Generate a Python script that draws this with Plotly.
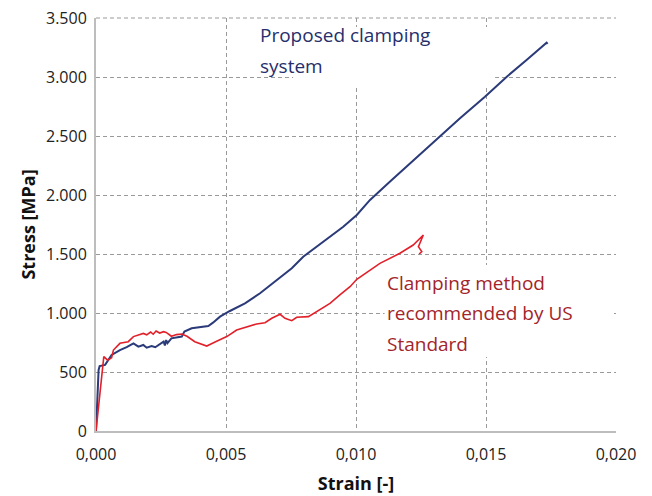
import plotly.graph_objects as go

# Proposed clamping system (blue)
strain_proposed = [0.0, 0.0001, 0.00014, 0.00035, 0.0006, 0.00092, 0.00118, 0.00144, 0.00163,
                   0.00182, 0.00195, 0.00214, 0.00228, 0.0024, 0.0026, 0.00265, 0.0027, 0.00275,
                   0.0029, 0.0033, 0.0034, 0.00368, 0.0040, 0.00432, 0.0045, 0.00477, 0.00515,
                   0.00573, 0.00631, 0.00695, 0.00753, 0.00797, 0.00823, 0.00887, 0.00951, 0.01003,
                   0.01054, 0.0113, 0.01208, 0.01272, 0.0133, 0.0140, 0.01496, 0.0158, 0.01656,
                   0.01733, 0.01737]
stress_proposed = [0, 517, 550, 560, 644, 686, 710, 743, 715,
                   729, 706, 720, 710, 729, 757, 725, 771, 745,
                   785, 800, 842, 870, 878, 890, 918, 969, 1017,
                   1082, 1167, 1280, 1379, 1477, 1520, 1619, 1731, 1831,
                   1958, 2113, 2269, 2396, 2509, 2650, 2833, 3003, 3144,
                   3291, 3280]

# Clamping method recommended by US Standard (red)
strain_us = [0.0, 0.00028, 0.0003, 0.00045, 0.0006, 0.00067, 0.00092, 0.00124, 0.00144,
             0.00182, 0.00195, 0.0021, 0.0022, 0.00231, 0.00245, 0.0026, 0.0027, 0.0029,
             0.0031, 0.0033, 0.0035, 0.0038, 0.00426, 0.0046, 0.00503, 0.00541, 0.00618,
             0.0065, 0.00676, 0.00708, 0.00727, 0.00753, 0.00772, 0.00817, 0.00849, 0.0090,
             0.00938, 0.00977, 0.01003, 0.01054, 0.01092, 0.01169, 0.0122, 0.01259, 0.0124,
             0.01253, 0.01243]
stress_us = [0, 620, 630, 600, 620, 686, 743, 757, 800,
             827, 815, 839, 820, 848, 830, 842, 835, 803,
             817, 822, 803, 757, 720, 757, 800, 856, 907,
             918, 955, 989, 955, 935, 964, 969, 1011, 1082,
             1153, 1223, 1286, 1364, 1421, 1506, 1576, 1661, 1562,
             1520, 1500]

x_ticks = [0.0, 0.005, 0.010, 0.015, 0.020]
y_ticks = [0, 500, 1000, 1500, 2000, 2500, 3000, 3500]

blue_lines = ["Proposed clamping", "system"]
red_lines = ["Clamping method", "recommended by US", "Standard"]

blue = "#2b3a78"
red = "#e2202a"
font = "Open Sans"

fig = go.Figure()
fig.add_trace(go.Scatter(x=strain_proposed, y=stress_proposed, mode="lines",
                         line=dict(color=blue, width=2), name="Proposed clamping system"))
fig.add_trace(go.Scatter(x=strain_us, y=stress_us, mode="lines",
                         line=dict(color=red, width=1.6), name="Clamping method recommended by US Standard"))

# white boxes behind the labels that hide the grid
fig.add_shape(type="rect", x0=0.00758, x1=0.01535, y0=2915, y1=3424,
              fillcolor="white", line_width=0, layer="between")
fig.add_shape(type="rect", x0=0.0111, x1=0.01985, y0=627, y1=1407,
              fillcolor="white", line_width=0, layer="between")
# dashed top border, like the grid
fig.add_shape(type="line", xref="paper", yref="paper", x0=0, x1=1, y0=1, y1=1,
              line=dict(color="#9a9a9a", width=1, dash="4px,3px"), layer="between")

for i, t in enumerate(blue_lines):
    fig.add_annotation(x=0.00623, y=3356 - i * 263, xanchor="left", yanchor="middle", showarrow=False,
                       text=t, font=dict(family=font, size=19, color="#262f6b"))
for i, t in enumerate(red_lines):
    fig.add_annotation(x=0.01112, y=1257 - i * 260, xanchor="left", yanchor="middle", showarrow=False,
                       text=t, font=dict(family=font, size=19, color="#a3242a"))

grid = dict(showgrid=True, gridcolor="#9a9a9a", griddash="4px,3px", gridwidth=1,
            zeroline=False, ticks="", tickfont=dict(family=font, size=16, color="#222"),
            automargin=False, ticklabeloverflow="allow")
fig.update_xaxes(range=[0, 0.020], tickvals=x_ticks, tickformat=".3f",
                 showline=True, linecolor="#bdbdbd", linewidth=2, ticklabelstandoff=8,
                 title=dict(text="<b>Strain [-]</b>", font=dict(family=font, size=18, color="#111"), standoff=13),
                 **grid)
fig.update_yaxes(range=[0, 3500], tickvals=y_ticks, tickformat=",d",
                 showline=True, linecolor="#bdbdbd", linewidth=2, ticklabelstandoff=4,
                 title=dict(text="<b>Stress [MPa]</b>", font=dict(family=font, size=18, color="#111"), standoff=6),
                 **grid)
# the page draws the figure 8px in from the top-left corner
fig.update_layout(width=652, height=496, separators=",.", showlegend=False,
                  plot_bgcolor="white", paper_bgcolor="white",
                  margin=dict(l=88, r=44, t=10, b=73))
fig.write_html("out.html")
